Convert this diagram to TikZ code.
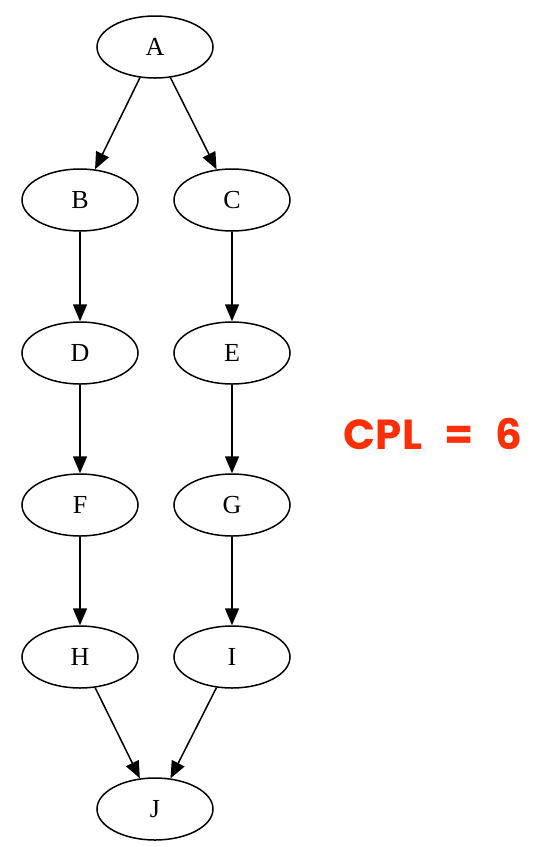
\documentclass[tikz,border=0pt]{standalone}
\usepackage{fontspec}
\setmainfont{Liberation Serif}
\newfontfamily\cplfont{Poppins}
\usetikzlibrary{shapes.geometric,arrows.meta}
\definecolor{cplred}{RGB}{252,48,8}
\tikzset{
  task/.style={ellipse,draw,line width=1.5pt,minimum width=116pt,minimum height=62pt,inner sep=0pt,font=\fontsize{26}{26}\selectfont},
  dep/.style={line width=1.5pt,-{Triangle[length=17pt,width=14pt]}}
}
\begin{document}
\begin{tikzpicture}[x=1pt,y=-1pt]
  \useasboundingbox (0,0) rectangle (536,847);
  \node[task] (A) at (155,47) {A};
  \node[task] (B) at (80,200) {B};
  \node[task] (C) at (232,200) {C};
  \node[task] (D) at (80,353) {D};
  \node[task] (E) at (232,353) {E};
  \node[task] (F) at (80,505) {F};
  \node[task] (G) at (232,505) {G};
  \node[task] (H) at (80,657) {H};
  \node[task] (I) at (232,657) {I};
  \node[task] (J) at (155,809) {J};
  \draw[dep] (A) -- (B);
  \draw[dep] (A) -- (C);
  \draw[dep] (B) -- (D);
  \draw[dep] (C) -- (E);
  \draw[dep] (D) -- (F);
  \draw[dep] (E) -- (G);
  \draw[dep] (F) -- (H);
  \draw[dep] (G) -- (I);
  \draw[dep] (H) -- (J);
  \draw[dep] (I) -- (J);
  \node[text=cplred,font=\cplfont\bfseries\fontsize{42}{42}\selectfont] (cpl) at (433,434) {CPL\hspace{22pt}=\hspace{22pt}6};
\end{tikzpicture}
\end{document}
